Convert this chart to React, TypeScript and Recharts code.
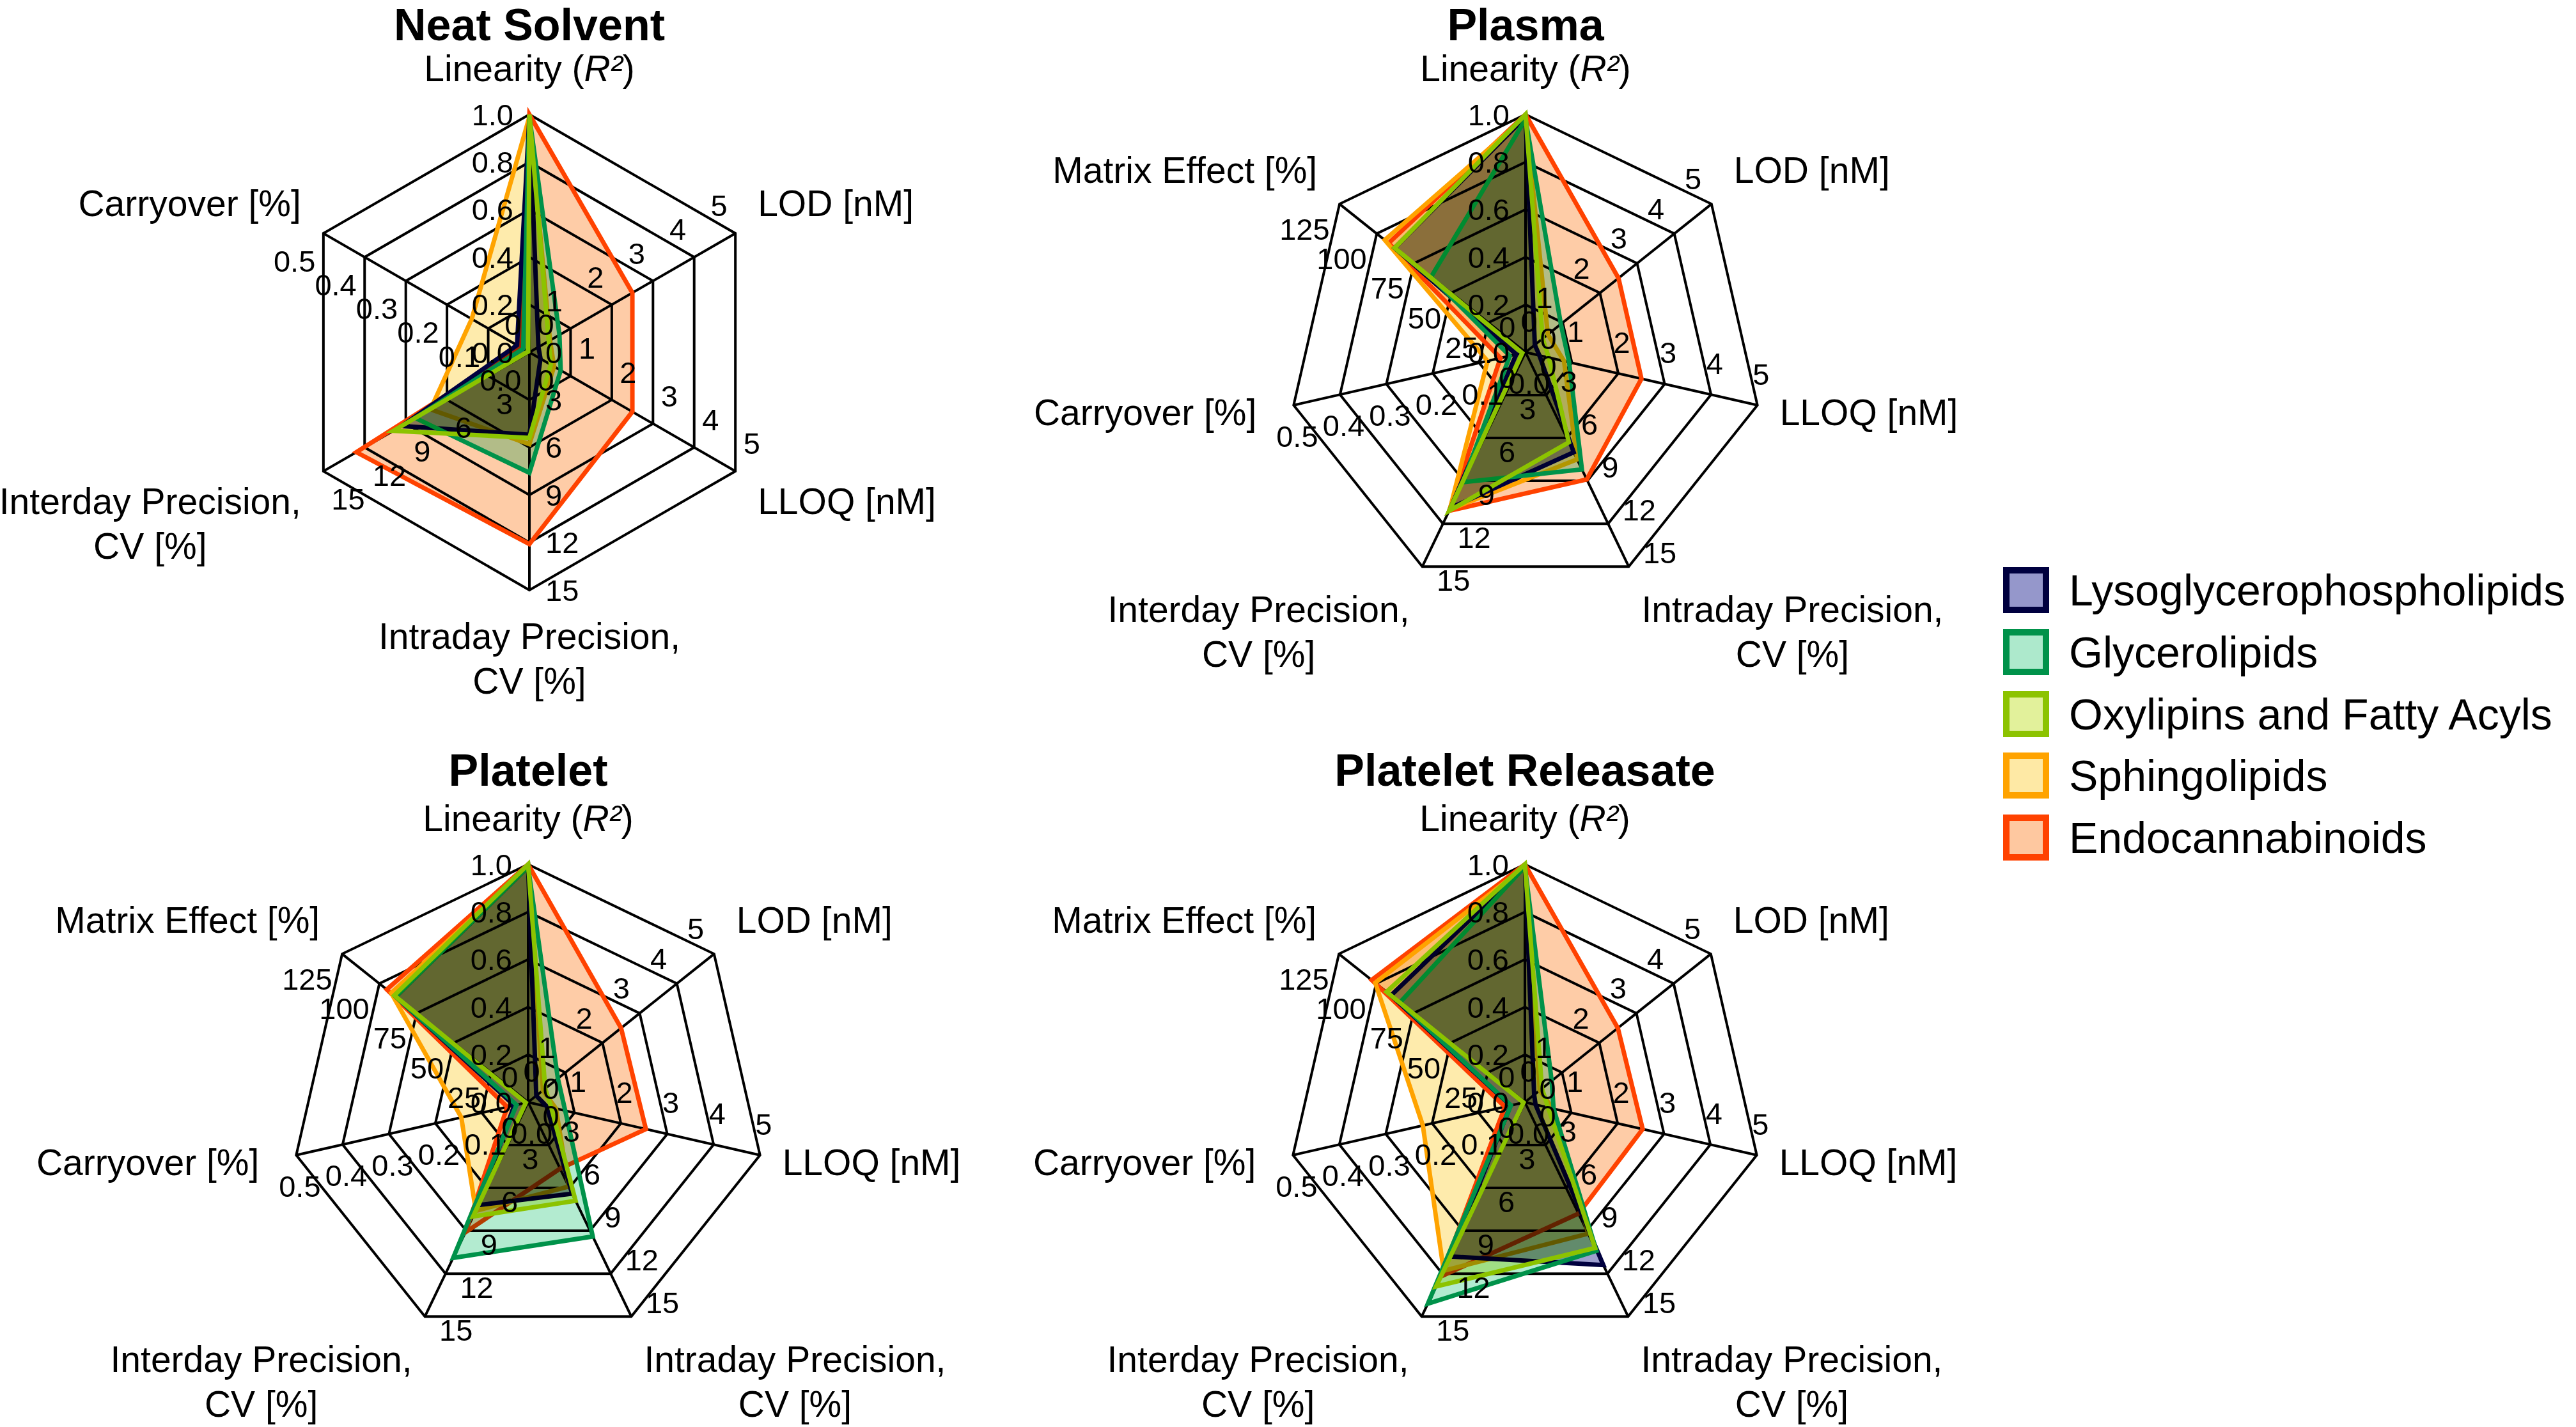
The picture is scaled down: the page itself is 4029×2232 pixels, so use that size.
import React from 'react';
import { RadarChart, Radar, PolarGrid, PolarAngleAxis, PolarRadiusAxis } from 'recharts';

const FONT = '"Liberation Sans", Arial, Helvetica, sans-serif';

// ---- series ----
const seriesNames = [
  'Lysoglycerophospholipids',
  'Glycerolipids',
  'Oxylipins and Fatty Acyls',
  'Sphingolipids',
  'Endocannabinoids',
];
const strokeColors = ['#00003f', '#00924a', '#8cc300', '#ffa300', '#ff4200'];
const fillColors = ['#9597cb', '#ade9cc', '#e2f19b', '#fee9a5', '#fec8a0'];
const drawOrder = [4, 3, 0, 1, 2];

// ---- axes ----
const axisKeys6 = ['Linearity', 'LOD', 'LLOQ', 'Intraday', 'Interday', 'Carryover'];
const axisKeys7 = ['Linearity', 'LOD', 'LLOQ', 'Intraday', 'Interday', 'Carryover', 'Matrix'];
const axisMax: Record<string, number> = {
  Linearity: 1, LOD: 5, LLOQ: 5, Intraday: 15, Interday: 15, Carryover: 0.5, Matrix: 125,
};
const axisDecimals: Record<string, number> = {
  Linearity: 1, LOD: 0, LLOQ: 0, Intraday: 0, Interday: 0, Carryover: 1, Matrix: 0,
};
const tickFractions = [0, 0.2, 0.4, 0.6, 0.8, 1];
const axisLabelLines: Record<string, string[]> = {
  Linearity: ['Linearity (R²)'],
  LOD: ['LOD [nM]'],
  LLOQ: ['LLOQ [nM]'],
  Intraday: ['Intraday Precision,', 'CV [%]'],
  Interday: ['Interday Precision,', 'CV [%]'],
  Carryover: ['Carryover [%]'],
  Matrix: ['Matrix Effect [%]'],
};

// ---- values (raw units), order: Linearity, LOD, LLOQ, Intraday, Interday, Carryover, Matrix ----
const neatLyso = [0.99, 0.22, 0.27, 5.2, 9.3, 0.03];
const neatGlycero = [0.99, 0.73, 0.76, 7.6, 8.3, 0.015];
const neatOxylipin = [1.0, 0.47, 0.52, 5.4, 9.9, 0.003];
const neatSphingo = [0.99, 0.5, 0.6, 5.8, 7.2, 0.14];
const neatEndo = [1.0, 2.5, 2.5, 12.1, 12.6, 0.02];

const plasmaLyso = [0.99, 0.25, 0.3, 7.0, 10.9, 0.02, 88];
const plasmaGlycero = [0.98, 0.95, 0.94, 8.2, 9.1, 0.034, 63.5];
const plasmaOxylipin = [1.0, 0.46, 0.5, 6.3, 11.1, 0.007, 88];
const plasmaSphingo = [0.99, 0.6, 0.83, 7.5, 11.0, 0.082, 94.6];
const plasmaEndo = [1.0, 2.5, 2.5, 8.9, 11.1, 0.054, 92];

const plateletLyso = [0.99, 0.22, 0.4, 6.4, 7.2, 0.03, 89];
const plateletGlycero = [0.99, 0.8, 0.8, 9.4, 10.9, 0.025, 89];
const plateletOxylipin = [1.0, 0.46, 0.5, 6.9, 8.0, 0.005, 90];
const plateletSphingo = [0.99, 0.4, 0.6, 5.9, 7.6, 0.144, 92];
const plateletEndo = [1.0, 2.5, 2.54, 4.65, 9.1, 0.045, 95];

const releasateLyso = [0.99, 0.25, 0.23, 11.4, 10.8, 0.031, 90];
const releasateGlycero = [0.99, 0.72, 0.62, 10.4, 14.1, 0.03, 84];
const releasateOxylipin = [1.0, 0.46, 0.5, 10.2, 12.9, 0.003, 93];
const releasateSphingo = [0.99, 0.4, 0.6, 9.2, 11.8, 0.22, 100.6];
const releasateEndo = [1.0, 2.5, 2.54, 7.8, 12.2, 0.043, 103];

const OUTER_R = 372;
const TICK_LINE = 8;

let measureCtx: CanvasRenderingContext2D | null = null;
function measure(s: string, size: number): number {
  if (!measureCtx) {
    const c = document.createElement('canvas');
    measureCtx = c.getContext('2d');
  }
  if (!measureCtx) return s.length * size * 0.5;
  measureCtx.font = `${size}px "Liberation Sans", Arial, sans-serif`;
  return measureCtx.measureText(s).width;
}

function buildRows(keys: string[], series: number[][]) {
  return keys.map((k, i) => {
    const row: Record<string, any> = { axis: k };
    series.forEach((vals, s) => {
      row[`s${s}`] = vals[i] / axisMax[k];
    });
    return row;
  });
}

const LABEL_SIZE = 57;
const TICK_SIZE = 47;

// Category label + that spoke's own value scale (each spoke has its own units)
const AngleTick = (props: any) => {
  const { x, y, payload } = props;
  const key = payload.value as string;
  const a = (payload.coordinate * Math.PI) / 180;
  const dx = Math.cos(a);
  const dy = -Math.sin(a);
  const vx = x - dx * TICK_LINE;
  const vy = y - dy * TICK_LINE;
  const cxp = vx - dx * OUTER_R;
  const cyp = vy - dy * OUTER_R;
  const px = dy;
  const py = -dx;
  const tAnchor = px > 0.4 ? 'start' : px < -0.4 ? 'end' : 'middle';

  const lines = axisLabelLines[key] || [key];
  const firstY = vy + dy * 50 + (Math.abs(dy) > 0.3 ? Math.sign(dy) * 22 : 0);
  const maxW = Math.max(...lines.map((l) => measure(l, LABEL_SIZE)));
  const gap = dx < -0.9 ? 58 : Math.abs(dx) < 0.6 ? 20 : 35;
  let centerX = vx;
  if (dx > 0.3) centerX = vx + gap + maxW / 2;
  else if (dx < -0.3) centerX = vx - gap - maxW / 2;
  return (
    <g>
      {tickFractions.map((f) => {
        const tx = cxp + dx * OUTER_R * f;
        const ty = cyp + dy * OUTER_R * f;
        return (
          <text
            key={`t${f}`}
            x={tx + px * 25}
            y={ty + py * 50}
            textAnchor={tAnchor}
            dominantBaseline="central"
            fontSize={TICK_SIZE}
            fontFamily={FONT}
            fill="#000"
          >
            {(f * axisMax[key]).toFixed(axisDecimals[key])}
          </text>
        );
      })}
      {lines.map((l, i) => (
        <text
          key={i}
          x={centerX}
          y={firstY + i * 70}
          textAnchor="middle"
          dominantBaseline="central"
          fontSize={LABEL_SIZE}
          fontFamily={FONT}
          fill="#000"
        >
          {key === 'Linearity' ? (
            <>
              <tspan>Linearity (</tspan>
              <tspan fontStyle="italic">R²</tspan>
              <tspan>)</tspan>
            </>
          ) : (
            l
          )}
        </text>
      ))}
    </g>
  );
};

type PanelProps = {
  title: string;
  keys: string[];
  series: number[][];
  left: number;
  top: number;
  width: number;
  height: number;
  cx: number;
  cy: number;
  titleY: number;
};

const Panel = ({ title, keys, series, left, top, width, height, cx, cy, titleY }: PanelProps) => {
  const rows = buildRows(keys, series);
  return (
    <div style={{ position: 'absolute', left, top, width, height }}>
      <RadarChart
        width={width}
        height={height}
        data={rows}
        cx={cx}
        cy={cy}
        outerRadius={OUTER_R}
        margin={{ top: 0, right: 0, bottom: 0, left: 0 }}
      >
        <PolarGrid
          gridType="polygon"
          stroke="#000"
          strokeWidth={4}
          polarRadius={tickFractions.filter((f) => f > 0).map((f) => f * OUTER_R)}
        />
        <PolarRadiusAxis type="number" domain={[0, 1]} tick={false} axisLine={false} />
        <PolarAngleAxis dataKey="axis" tick={AngleTick} axisLine={false} tickLine={false} />
        {drawOrder.flatMap((s) => [
          <Radar
            key={`f${s}`}
            name={seriesNames[s]}
            dataKey={`s${s}`}
            className="mult"
            fill={fillColors[s]}
            fillOpacity={0.92}
            stroke="none"
            isAnimationActive={false}
          />,
          <Radar
            key={`l${s}`}
            name={seriesNames[s]}
            dataKey={`s${s}`}
            fill="none"
            fillOpacity={0}
            stroke={strokeColors[s]}
            strokeWidth={7}
            strokeLinejoin="miter"
            isAnimationActive={false}
          />,
        ])}
      </RadarChart>
      <div
        style={{
          position: 'absolute',
          left: cx - 600,
          width: 1200,
          top: titleY,
          textAlign: 'center',
          fontFamily: FONT,
          fontWeight: 'bold',
          fontSize: 70,
          lineHeight: '70px',
          color: '#000',
          whiteSpace: 'nowrap',
        }}
      >
        {title}
      </div>
    </div>
  );
};

const LegendBox = () => (
  <div style={{ position: 'absolute', left: 3133, top: 0 }}>
    {seriesNames.map((name, i) => (
      <div
        key={name}
        style={{
          position: 'absolute',
          left: 0,
          top: 923 + i * 96.8 - 36,
          height: 72,
          display: 'flex',
          alignItems: 'center',
          whiteSpace: 'nowrap',
        }}
      >
        <div
          style={{
            width: 52,
            height: 52,
            border: `10px solid ${strokeColors[i]}`,
            background: fillColors[i],
          }}
        />
        <span
          style={{
            marginLeft: 31,
            fontFamily: FONT,
            fontSize: 68,
            color: '#000',
            lineHeight: '72px',
          }}
        >
          {name}
        </span>
      </div>
    ))}
  </div>
);

export default function App() {
  return (
    <div
      style={{
        position: 'absolute',
        left: 0,
        top: 0,
        width: 4029,
        height: 2232,
        background: '#fff',
        overflow: 'hidden',
        fontFamily: FONT,
      }}
    >
      <style>{`.mult, .mult path { mix-blend-mode: multiply; }`}</style>
      <Panel
        title="Neat Solvent"
        keys={axisKeys6}
        series={[neatLyso, neatGlycero, neatOxylipin, neatSphingo, neatEndo]}
        left={0}
        top={0}
        width={1580}
        height={1116}
        cx={828}
        cy={551}
        titleY={4}
      />
      <Panel
        title="Plasma"
        keys={axisKeys7}
        series={[plasmaLyso, plasmaGlycero, plasmaOxylipin, plasmaSphingo, plasmaEndo]}
        left={1580}
        top={0}
        width={1620}
        height={1116}
        cx={806}
        cy={551}
        titleY={4}
      />
      <Panel
        title="Platelet"
        keys={axisKeys7}
        series={[plateletLyso, plateletGlycero, plateletOxylipin, plateletSphingo, plateletEndo]}
        left={0}
        top={1116}
        width={1580}
        height={1116}
        cx={826}
        cy={608}
        titleY={54}
      />
      <Panel
        title="Platelet Releasate"
        keys={axisKeys7}
        series={[releasateLyso, releasateGlycero, releasateOxylipin, releasateSphingo, releasateEndo]}
        left={1580}
        top={1116}
        width={1620}
        height={1116}
        cx={805}
        cy={608}
        titleY={54}
      />
      <LegendBox />
    </div>
  );
}
